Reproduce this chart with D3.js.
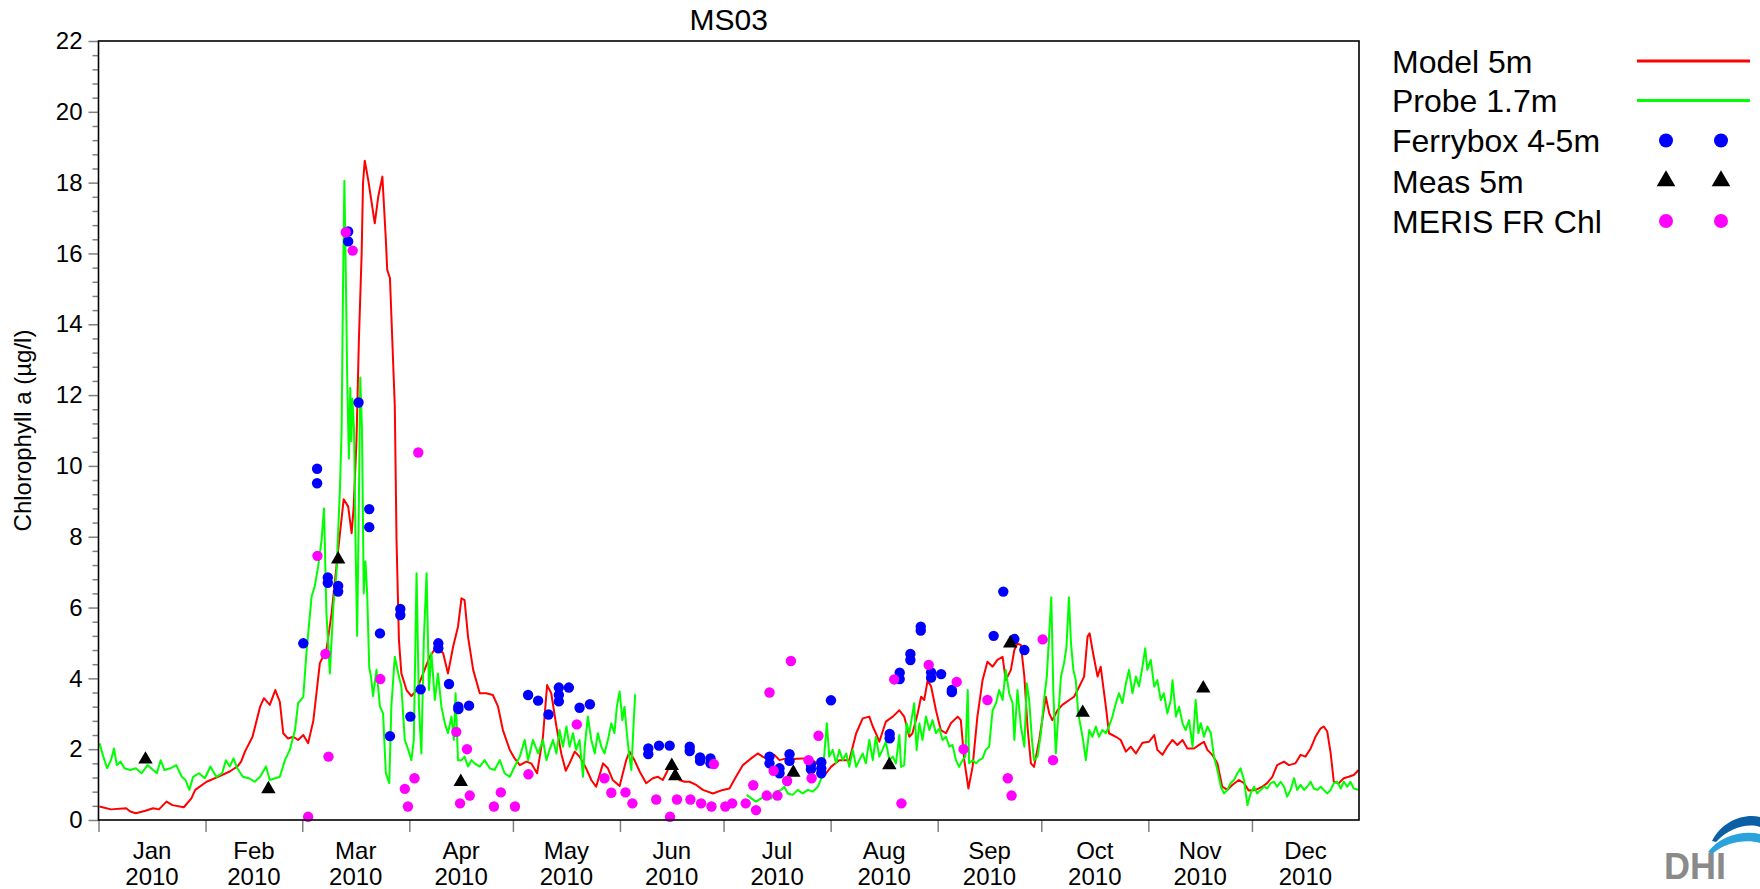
<!DOCTYPE html>
<html>
<head>
<meta charset="utf-8">
<script src="https://cdn.jsdelivr.net/npm/d3@7"></script>
<style>
  html, body { margin: 0; padding: 0; background: #fff; }
  svg { display: block; font-family: "Liberation Sans", Arial, Helvetica, sans-serif; }
</style>
</head>
<body>
<svg id="chart" width="1760" height="889"></svg>
<script>
// ---- Station MS03, chlorophyll a during 2010 (day of year, value in µg/l) ----
const titleText = "MS03";
const yLabelText = "Chlorophyll a (µg/l)";
const yTickValues = [0, 2, 4, 6, 8, 10, 12, 14, 16, 18, 20, 22];
const monthNames = ["Jan", "Feb", "Mar", "Apr", "May", "Jun", "Jul", "Aug", "Sep", "Oct", "Nov", "Dec"];
const yearLabel = "2010";

// Model 5m
const modelDays = [0.3,3.6,8.0,9.2,10.8,13.6,15.8,17.5,19.7,21.4,24.7,26.9,28.0,31.3,34.6,38.0,40.2,41.3,42.4,44.6,46.8,47.9,49.6,51.2,52.5,53.5,54.9,56.4,57.8,59.3,60.7,62.2,64.1,66.0,67.5,69.4,71.0,72.3,73.3,73.9,74.7,75.4,76.2,76.6,77.1,78.1,80.0,81.0,82.2,83.2,83.6,84.4,85.8,86.3,87.0,87.7,89.2,90.6,92.1,94.0,95.9,97.9,99.8,101.2,102.7,104.1,105.1,106.0,107.0,108.5,110.4,112.3,114.2,115.7,117.1,119.1,120.5,122.0,123.9,125.3,127.0,128.7,129.9,131.1,132.6,134.0,135.3,136.4,137.9,139.3,141.2,142.7,144.1,146.1,147.5,148.9,150.9,152.8,153.8,155.2,156.7,158.6,160.5,162.0,163.4,164.4,165.8,166.8,168.2,169.7,171.1,173.1,175.0,177.9,180.8,182.7,184.6,186.6,189.0,190.9,192.3,194.3,195.7,197.2,199.1,201.0,203.9,206.8,209.2,210.7,212.1,214.5,217.4,219.4,221.3,223.2,224.2,225.1,226.1,228.0,230.0,231.9,233.3,234.8,235.7,237.2,238.2,239.1,240.1,241.1,242.5,243.9,245.4,246.8,248.8,249.7,250.7,251.9,253.1,254.5,256.0,257.4,258.9,260.3,261.8,262.7,264.2,265.2,266.1,267.1,268.1,269.0,270.0,270.9,272.4,274.3,275.3,276.2,277.7,279.1,281.1,282.5,284.0,285.4,286.4,287.0,288.0,289.3,290.2,291.7,292.6,294.6,296.0,297.5,298.9,300.4,302.3,304.2,305.7,306.6,308.1,309.5,311.0,312.4,313.9,315.3,317.2,318.7,320.1,321.1,322.5,324.0,325.4,326.9,328.3,330.2,331.7,333.1,335.1,337.0,338.4,339.9,341.3,343.3,344.7,346.6,348.1,349.5,351.0,352.4,353.9,354.8,355.8,356.8,357.7,359.2,360.6,362.0,363.5,364.9];
const modelValues = [0.38,0.30,0.33,0.24,0.19,0.26,0.33,0.30,0.52,0.42,0.36,0.61,0.85,1.08,1.22,1.37,1.51,1.65,1.93,2.35,3.20,3.44,3.25,3.67,3.34,2.45,2.30,2.35,2.26,2.40,2.17,2.80,4.43,4.80,5.84,7.63,9.06,8.85,8.10,8.85,10.70,13.56,16.00,18.00,18.62,18.08,16.85,17.60,18.17,16.40,15.54,15.30,11.68,7.90,5.08,4.14,3.67,3.50,3.67,4.14,4.61,4.90,4.71,4.14,4.90,5.46,6.26,6.21,5.18,4.24,3.58,3.58,3.53,3.20,2.54,1.98,1.74,1.55,1.65,1.60,1.32,2.35,3.81,3.58,2.64,1.88,1.39,1.60,1.93,1.79,1.46,1.13,0.94,1.60,1.46,1.13,0.96,1.69,1.93,1.69,1.37,1.04,1.18,1.22,1.13,1.32,1.60,1.46,1.13,1.08,1.08,0.99,0.85,0.75,0.85,0.89,1.22,1.55,1.74,1.88,1.79,1.69,1.84,1.69,1.74,1.72,1.74,1.69,1.50,1.32,1.50,1.69,1.69,2.45,2.87,2.92,2.64,2.45,2.21,2.78,2.92,3.10,2.92,2.35,2.45,3.01,3.48,3.39,3.95,3.77,3.10,2.54,2.45,2.73,2.92,2.82,1.69,0.89,1.50,2.92,3.95,4.47,4.33,4.52,4.61,3.95,4.24,4.80,4.99,4.94,4.05,2.64,1.60,1.50,2.26,3.48,3.01,2.82,3.10,3.25,3.39,3.48,3.77,4.05,5.18,5.27,4.71,4.05,4.33,3.20,2.45,2.35,2.26,1.93,2.07,1.88,2.18,2.21,2.40,1.98,1.84,2.07,2.26,2.12,2.26,2.02,2.02,2.12,2.21,1.98,1.84,1.60,0.94,0.85,0.99,1.13,1.04,0.83,0.85,0.94,1.04,1.22,1.55,1.65,1.55,1.60,1.84,1.79,2.02,2.35,2.59,2.64,2.50,1.88,1.08,1.04,1.18,1.22,1.27,1.41];

// Probe 1.7m (null marks the June gap in the record)
const probeDays = [0.3,1.4,2.5,3.6,4.5,5.3,6.4,7.5,9.2,10.8,12.5,14.2,15.8,16.9,18.0,19.1,20.8,22.5,24.1,25.2,26.3,27.4,29.1,30.8,32.4,34.1,35.8,36.9,38.0,39.1,40.2,41.8,43.5,45.2,46.8,48.5,49.6,51.2,52.5,54.0,55.4,56.9,57.8,59.3,60.2,61.7,62.6,63.6,64.6,65.3,66.0,67.0,68.0,68.9,69.9,70.4,70.8,71.2,71.6,72.0,72.5,72.9,73.2,73.5,74.0,74.4,74.9,75.4,75.8,76.3,76.8,77.3,77.8,78.4,78.9,79.5,80.5,81.5,82.4,83.2,84.2,84.8,85.8,86.8,87.7,88.7,89.7,90.6,91.3,92.1,92.8,93.5,94.2,95.0,95.7,96.4,97.4,98.3,99.3,100.3,101.2,102.2,102.9,103.4,104.1,105.1,106.0,107.0,108.0,108.9,110.4,111.8,113.3,114.7,116.2,117.6,119.1,120.5,122.0,123.4,124.4,125.8,127.3,128.7,129.7,130.6,131.6,132.6,133.5,134.5,135.5,136.4,137.4,138.3,139.3,140.3,140.8,141.7,142.7,143.7,144.6,145.6,146.5,147.5,148.5,149.4,150.1,150.9,151.7,152.3,153.0,153.6,154.3,155.0,155.4,
  171.0,
  187.7,189.0,190.4,191.9,193.3,194.8,196.2,197.7,198.6,199.6,201.0,202.5,203.9,205.4,206.8,208.3,209.5,210.2,210.9,211.6,212.6,213.6,214.5,215.5,216.5,217.4,218.4,219.4,220.3,221.3,222.2,223.2,224.2,225.1,226.1,227.1,228.0,229.0,230.0,230.9,231.9,232.4,233.3,234.0,234.8,235.7,236.2,236.9,237.7,238.6,239.6,240.6,241.5,242.5,243.5,244.4,245.4,246.4,247.3,248.3,249.2,250.2,251.0,251.7,252.1,253.1,254.1,255.0,256.0,256.9,257.9,258.9,259.9,260.8,261.8,262.7,263.7,264.7,265.2,266.1,267.1,268.1,268.8,269.5,270.3,270.9,271.9,272.9,273.8,274.6,275.3,275.9,276.5,277.2,277.9,278.7,279.6,280.3,281.0,281.6,282.3,283.0,283.7,284.4,285.1,285.9,286.9,287.8,288.8,289.7,290.7,291.7,292.6,293.6,294.6,295.5,296.5,297.5,298.4,299.4,300.4,301.3,302.3,303.1,303.7,304.7,305.7,306.6,307.6,308.5,309.5,310.5,311.0,312.0,312.9,313.9,314.8,315.8,316.8,317.7,318.5,319.2,320.1,321.1,322.1,323.0,324.0,325.0,325.9,326.9,327.8,328.8,329.8,330.7,331.7,332.7,333.6,334.6,335.5,336.5,337.5,338.4,339.4,340.4,341.3,342.3,343.3,344.2,345.2,346.2,347.1,348.1,349.1,350.0,351.0,351.9,352.9,353.9,354.8,355.8,356.8,357.7,358.7,359.7,360.6,361.6,362.5,363.5,364.9];
const probeValues = [2.17,1.79,1.46,1.69,2.02,1.55,1.65,1.46,1.41,1.46,1.32,1.55,1.41,1.32,1.69,1.41,1.46,1.55,1.22,1.13,0.85,1.22,1.32,1.18,1.51,1.22,1.32,1.69,1.51,1.74,1.46,1.22,1.18,1.08,1.22,1.51,1.13,1.18,1.22,1.69,1.98,2.54,3.30,3.48,4.71,6.31,6.59,7.16,7.91,8.80,5.84,4.14,6.03,6.97,9.32,11.0,15.0,18.05,15.5,12.6,10.2,12.2,10.7,11.9,11.0,8.0,5.2,9.0,12.5,11.0,6.4,7.3,6.4,4.3,4.05,3.5,4.24,3.2,3.01,1.32,1.04,3.2,4.61,4.14,3.77,2.26,1.98,1.69,2.26,6.97,3.2,1.88,5.08,6.97,3.67,4.71,3.39,4.14,3.2,2.73,2.45,2.92,2.26,3.58,1.69,1.69,1.79,1.51,1.69,1.6,1.51,1.69,1.46,1.41,1.69,1.32,1.22,1.51,1.79,2.26,1.69,2.26,1.88,2.26,1.69,1.98,2.26,1.88,2.54,2.07,2.64,2.07,2.45,1.98,2.26,1.22,2.07,2.92,2.26,1.88,2.45,2.07,1.88,2.26,2.73,2.45,3.2,3.63,2.82,3.2,2.45,1.88,1.41,2.82,3.55,
  null,
  0.71,0.61,0.52,0.61,0.71,0.61,0.80,0.85,0.94,0.75,0.71,0.85,0.75,0.85,0.80,0.94,1.22,1.88,2.73,1.79,1.98,1.60,1.98,1.69,1.88,1.50,1.98,1.50,1.69,1.88,1.60,2.26,1.69,2.35,1.79,2.00,2.21,1.69,1.79,1.60,2.40,1.50,1.55,2.73,2.45,3.01,3.30,1.98,2.73,2.26,2.92,2.54,2.82,2.45,2.59,2.26,2.35,2.07,2.12,1.69,1.50,1.69,1.79,3.67,1.60,1.69,1.60,1.69,1.74,1.98,2.07,3.10,3.30,3.67,3.39,4.24,3.58,3.30,2.26,3.67,2.64,2.07,3.86,3.39,2.26,1.69,1.79,2.45,3.39,4.05,5.27,6.29,3.58,1.88,2.92,4.05,4.43,4.90,6.29,4.99,4.24,3.95,3.01,2.64,2.26,1.69,2.54,2.35,2.64,2.35,2.54,2.45,2.64,2.92,3.30,3.58,3.30,3.86,4.24,3.58,4.05,3.77,4.33,4.85,4.24,4.52,3.77,3.95,3.39,3.58,3.01,3.39,3.95,2.92,3.20,2.73,2.54,2.82,2.07,3.39,2.45,2.73,2.35,2.64,2.45,1.79,1.41,0.94,0.75,0.85,1.04,1.13,1.32,1.46,1.13,0.42,0.75,0.94,0.75,0.85,0.94,0.89,1.04,1.08,0.94,1.08,0.94,0.66,0.85,1.18,0.85,0.99,0.85,0.94,1.08,0.89,0.85,0.94,0.85,0.75,0.85,1.04,1.08,0.89,1.08,0.94,1.08,0.89,0.85];

// Ferrybox 4-5m
const ferryboxDays = [59.3,63.3,63.3,66.4,66.4,69.4,69.4,72.3,72.3,75.3,78.4,78.4,81.5,84.4,87.4,87.4,90.3,93.3,98.4,98.4,101.5,104.2,104.2,107.3,124.4,127.3,130.3,133.3,133.3,133.3,136.2,139.3,142.3,159.2,159.2,162.3,165.4,171.2,171.2,174.2,174.2,177.2,177.2,194.3,194.3,197.2,197.2,200.1,200.1,206.3,206.3,209.3,209.3,209.3,212.1,229.1,229.1,232.0,232.0,235.1,235.1,238.1,238.1,241.1,241.1,244.0,247.1,247.1,259.2,262.0,265.2,268.1];
const ferryboxValues = [4.99,9.92,9.51,6.85,6.70,6.61,6.45,16.62,16.34,11.79,8.78,8.27,5.27,2.37,5.96,5.79,2.92,3.69,4.99,4.85,3.84,3.20,3.13,3.23,3.53,3.37,2.98,3.74,3.53,3.35,3.74,3.17,3.27,2.02,1.86,2.10,2.10,2.07,1.95,1.77,1.67,1.74,1.60,1.79,1.60,1.46,1.32,1.86,1.67,1.55,1.43,1.63,1.46,1.32,3.38,2.43,2.31,4.16,3.98,4.69,4.52,5.46,5.35,4.17,4.02,4.12,3.67,3.61,5.20,6.45,5.11,4.80];

// Meas 5m
const measDays = [13.6,49.2,69.4,104.9,166.0,167.0,201.2,229.0,264.0,285.0,319.9];
const measValues = [1.71,0.87,7.36,1.08,1.53,1.24,1.34,1.55,4.99,3.03,3.72];

// MERIS FR Chl
const merisDays = [60.7,63.4,65.7,66.6,71.6,73.6,81.6,88.7,89.6,91.5,92.6,103.6,104.7,106.7,107.5,114.5,116.5,120.6,124.5,138.5,146.5,148.5,152.6,154.6,161.5,165.5,167.5,171.4,174.5,177.5,178.2,181.5,183.5,187.4,189.6,190.4,193.5,194.3,195.5,196.6,199.4,200.5,205.6,206.5,208.5,230.4,232.5,240.4,248.5,250.5,257.4,263.3,264.4,273.4,276.4];
const merisValues = [0.09,7.46,4.69,1.79,16.60,16.08,3.98,0.88,0.38,1.18,10.38,2.49,0.47,2.00,0.69,0.38,0.78,0.38,1.29,2.70,1.18,0.77,0.78,0.47,0.58,0.09,0.58,0.58,0.47,0.38,1.58,0.38,0.47,0.47,0.98,0.28,0.69,3.60,1.39,0.69,1.10,4.49,1.69,1.18,2.38,3.97,0.47,4.38,3.90,2.00,3.39,1.18,0.69,5.10,1.69];

// Legend entries
const legendLabels = ["Model 5m", "Probe 1.7m", "Ferrybox 4-5m", "Meas 5m", "MERIS FR Chl"];
const legendKinds = ["line", "line", "circle", "triangle", "circle"];
const seriesColors = ["#ff0000", "#00ff00", "#0000ff", "#000000", "#ff00ff"];

// ---- drawing ----
const svg = d3.select("#chart");
const W = 1760, H = 889;
const plot = { left: 98.5, right: 1359, top: 41, bottom: 820 };
const startMs = Date.UTC(2010, 0, 1);
const toDate = d => new Date(startMs + d * 864e5);

svg.append("rect").attr("width", W).attr("height", H).attr("fill", "#fff");

const x = d3.scaleUtc()
  .domain([new Date(Date.UTC(2010, 0, 1)), new Date(Date.UTC(2011, 0, 1))])
  .range([plot.left, plot.right]);
const y = d3.scaleLinear().domain([0, 22]).range([plot.bottom, plot.top]);

// y axis: minor ticks every 0.4, major every 2
const minorTicks = d3.range(0, 110 + 1).map(i => i * 0.4).filter(v => v <= 22 && Math.abs(v / 2 - Math.round(v / 2)) > 1e-6);
const yMinor = svg.append("g").attr("transform", `translate(${plot.left},0)`)
  .call(d3.axisLeft(y).tickValues(minorTicks).tickSize(6).tickFormat(""));
const yMajor = svg.append("g").attr("transform", `translate(${plot.left},0)`)
  .call(d3.axisLeft(y).tickValues(yTickValues).tickSize(10).tickPadding(6).tickFormat(d3.format("d")));
[yMinor, yMajor].forEach(g => {
  g.select(".domain").remove();
  g.selectAll(".tick line").attr("stroke", "#808080").attr("stroke-width", 1.5);
});
yMajor.selectAll(".tick text").attr("font-size", 24).attr("fill", "#000")
  .attr("font-family", "Liberation Sans, Arial, sans-serif");

// x axis: ticks on month boundaries, labels centred in each month
const monthStarts = d3.utcMonth.range(new Date(Date.UTC(2010, 0, 1)), new Date(Date.UTC(2010, 11, 2)));
const xAxis = svg.append("g").attr("transform", `translate(0,${plot.bottom})`)
  .call(d3.axisBottom(x).tickValues(monthStarts).tickSize(12).tickFormat(""));
xAxis.select(".domain").remove();
xAxis.selectAll(".tick line").attr("stroke", "#808080").attr("stroke-width", 1.5);

const monthLbl = svg.append("g").attr("font-size", 24).attr("text-anchor", "middle").attr("fill", "#000");
monthStarts.forEach((m, i) => {
  const next = d3.utcMonth.offset(m, 1);
  const cx = (x(m) + x(next)) / 2;
  const t = monthLbl.append("text").attr("x", cx);
  t.append("tspan").attr("x", cx).attr("y", 859).text(monthNames[i]);
  t.append("tspan").attr("x", cx).attr("y", 885).text(yearLabel);
});

// series lines
const line = d3.line()
  .defined(d => d.v != null)
  .x(d => x(toDate(d.d)))
  .y(d => y(d.v));

const modelData = modelDays.map((d, i) => ({ d, v: modelValues[i] }));
const probeData = probeDays.map((d, i) => ({ d, v: probeValues[i] }));

svg.append("path").datum(modelData).attr("d", line)
  .attr("fill", "none").attr("stroke", seriesColors[0]).attr("stroke-width", 2).attr("stroke-linejoin", "round");
svg.append("path").datum(probeData).attr("d", line)
  .attr("fill", "none").attr("stroke", seriesColors[1]).attr("stroke-width", 2).attr("stroke-linejoin", "round");

// point series
const dotR = 5.2;
svg.append("g").selectAll("circle")
  .data(ferryboxDays.map((d, i) => ({ d, v: ferryboxValues[i] })))
  .join("circle")
  .attr("cx", p => x(toDate(p.d))).attr("cy", p => y(p.v)).attr("r", dotR)
  .attr("fill", seriesColors[2]);

const tri = d3.symbol(d3.symbolTriangle, 90);
svg.append("g").selectAll("path")
  .data(measDays.map((d, i) => ({ d, v: measValues[i] })))
  .join("path")
  .attr("d", tri)
  .attr("transform", p => `translate(${x(toDate(p.d))},${y(p.v)})`)
  .attr("fill", seriesColors[3]);

svg.append("g").selectAll("circle")
  .data(merisDays.map((d, i) => ({ d, v: merisValues[i] })))
  .join("circle")
  .attr("cx", p => x(toDate(p.d))).attr("cy", p => y(p.v)).attr("r", dotR)
  .attr("fill", seriesColors[4]);

// plot frame
svg.append("rect")
  .attr("x", plot.left).attr("y", plot.top)
  .attr("width", plot.right - plot.left).attr("height", plot.bottom - plot.top)
  .attr("fill", "none").attr("stroke", "#000").attr("stroke-width", 1.6);

// title and y-axis label
svg.append("text").attr("x", (plot.left + plot.right) / 2).attr("y", 30)
  .attr("text-anchor", "middle").attr("font-size", 30).attr("fill", "#000").text(titleText);
svg.append("text")
  .attr("transform", `translate(31,${(plot.top + plot.bottom) / 2}) rotate(-90)`)
  .attr("text-anchor", "middle").attr("font-size", 24).attr("fill", "#000").text(yLabelText);

// legend
const legendRowY = [61, 100.5, 140.5, 181, 221];
const lg = svg.append("g");
legendLabels.forEach((lab, i) => {
  const ry = legendRowY[i];
  lg.append("text").attr("x", 1392).attr("y", ry + 11.5).attr("font-size", 32).attr("fill", "#000").text(lab);
  const kind = legendKinds[i];
  if (kind === "line") {
    lg.append("line").attr("x1", 1637).attr("x2", 1750).attr("y1", ry).attr("y2", ry)
      .attr("stroke", seriesColors[i]).attr("stroke-width", 3);
  } else {
    [1666, 1721].forEach(mx => {
      if (kind === "circle") {
        lg.append("circle").attr("cx", mx).attr("cy", ry).attr("r", 7).attr("fill", seriesColors[i]);
      } else {
        lg.append("path").attr("d", d3.symbol(d3.symbolTriangle, 150)())
          .attr("transform", `translate(${mx},${ry})`).attr("fill", seriesColors[i]);
      }
    });
  }
});

// DHI logo (bottom-right corner)
const logo = svg.append("g");
logo.append("path")
  .attr("d", "M1712,841 C1722,821 1744,813 1760,817 L1760,827 C1748,823 1730,827 1716,842 Z")
  .attr("fill", "#0b5fa5");
logo.append("path")
  .attr("d", "M1708,852 C1720,836 1742,830 1760,834 L1760,843 C1746,839 1726,842 1712,854 Z")
  .attr("fill", "#2aa3dc");
logo.append("text").attr("x", 1664).attr("y", 879).attr("font-size", 36).attr("font-weight", "bold")
  .attr("fill", "#8a8a8a").text("DHI");
</script>
</body>
</html>
